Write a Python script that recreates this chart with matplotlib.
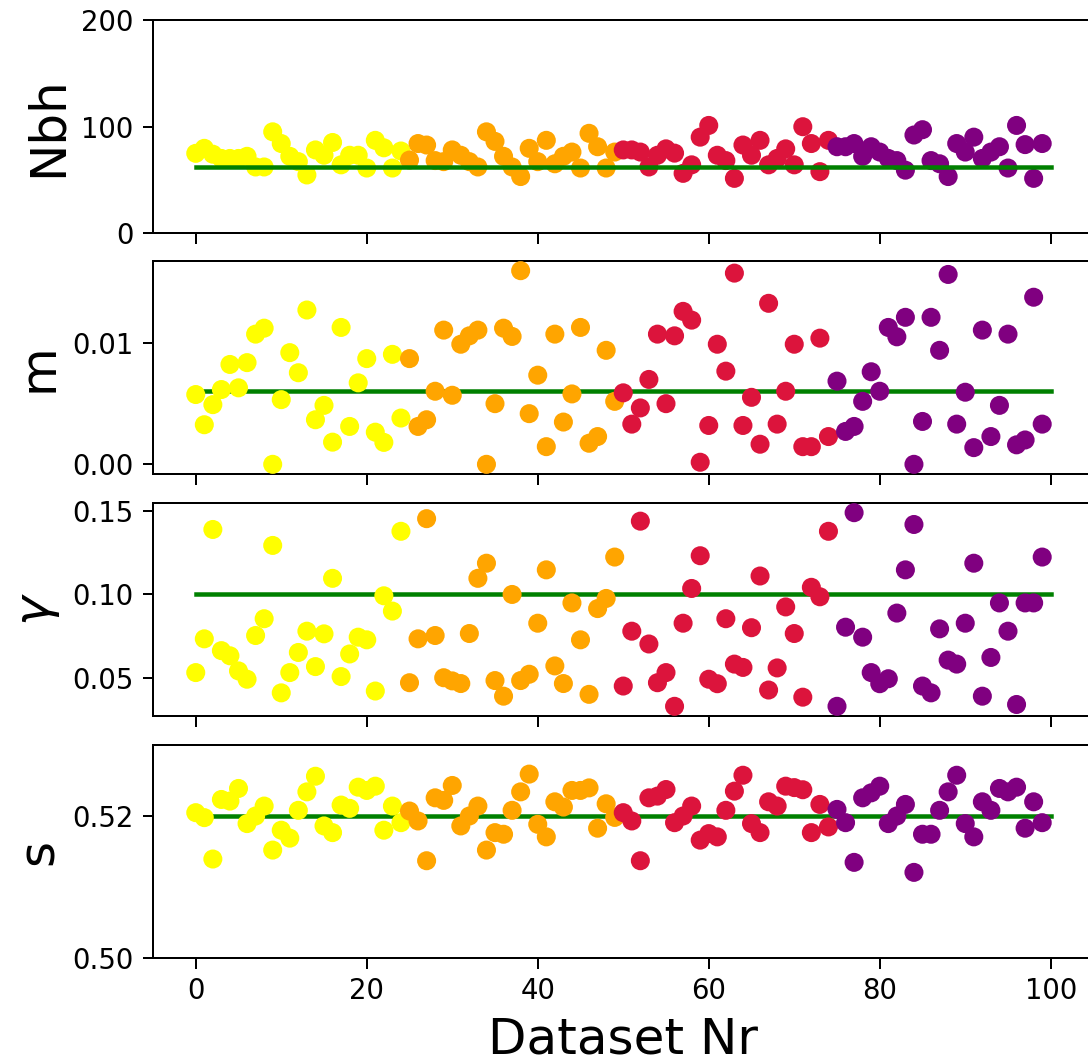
import numpy as np
import matplotlib
matplotlib.use("Agg")
import matplotlib.pyplot as plt

# Dataset index and the four groups of 25 runs
dataset_nr = list(range(100))
group_colors = ["yellow", "orange", "crimson", "purple"]
group_size = 25

# True parameter values (reference lines)
nbh_true = 62
m_true = 0.006
gamma_true = 0.10
s_true = 0.52

# Estimated Nbh per dataset
nbh = [74.8, 79.5, 74, 70, 70, 70, 72, 62, 62, 95, 84, 72, 67, 54.5, 78, 73, 85, 64, 73, 73, 61, 87, 80, 61, 77,
       68.5, 84, 82.6, 68, 67, 78, 73, 67, 62, 95, 86, 72, 62, 53, 79.5, 67, 87, 65, 72, 76, 61, 93.6, 81, 61, 76,
       78, 78, 76, 62, 73, 79, 75, 56, 64, 90, 101, 73, 68, 51.3, 82.6, 73, 87, 64, 70, 79, 64, 99.8, 84, 57.6, 87,
       81, 81, 84, 72, 81, 76, 70, 68, 59, 92, 97, 68, 65, 53, 84, 76, 90, 70, 76, 81, 61, 101, 83, 51.3, 84]

# Estimated m per dataset
m = [0.00573, 0.00325, 0.00490, 0.00614, 0.00820, 0.00628, 0.00835, 0.01069, 0.01118, 0.00000,
     0.00531, 0.00917, 0.00752, 0.01267, 0.00366, 0.00484, 0.00182, 0.01124, 0.00311, 0.00669,
     0.00868, 0.00264, 0.00180, 0.00903, 0.00380,
     0.00868, 0.00311, 0.00366, 0.00600, 0.01102, 0.00567, 0.00986, 0.01055, 0.01102, 0.00000,
     0.00498, 0.01118, 0.01050, 0.01590, 0.00416, 0.00732, 0.00145, 0.01069, 0.00347, 0.00578,
     0.01124, 0.00173, 0.00228, 0.00936, 0.00517,
     0.00587, 0.00330, 0.00463, 0.00697, 0.01069, 0.00498, 0.01055, 0.01256, 0.01184, 0.00017,
     0.00319, 0.00986, 0.00765, 0.01570, 0.00319, 0.00550, 0.00165, 0.01322, 0.00330, 0.00600,
     0.00986, 0.00145, 0.00145, 0.01036, 0.00228,
     0.00683, 0.00270, 0.00311, 0.00517, 0.00760, 0.00600, 0.01124, 0.01047, 0.01207, 0.00000,
     0.00352, 0.01207, 0.00936, 0.01559, 0.00330, 0.00592, 0.00137, 0.01102, 0.00228, 0.00484,
     0.01069, 0.00160, 0.00200, 0.01372, 0.00330]

# Estimated gamma per dataset
gamma = [0.0530, 0.0733, 0.1391, 0.0662, 0.0631, 0.0540, 0.0490, 0.0753, 0.0854, 0.1295,
         0.0408, 0.0530, 0.0651, 0.0779, 0.0566, 0.0763, 0.1097, 0.0506, 0.0642, 0.0743,
         0.0727, 0.0419, 0.0992, 0.0900, 0.1380,
         0.0469, 0.0733, 0.1456, 0.0753, 0.0499, 0.0480, 0.0464, 0.0765, 0.1097, 0.1188,
         0.0482, 0.0388, 0.1000, 0.0482, 0.0520, 0.0827, 0.1148, 0.0570, 0.0464, 0.0949,
         0.0727, 0.0399, 0.0915, 0.0976, 0.1225,
         0.0449, 0.0779, 0.1441, 0.0702, 0.0469, 0.0530, 0.0327, 0.0827, 0.1036, 0.1233,
         0.0490, 0.0463, 0.0854, 0.0581, 0.0561, 0.0800, 0.1111, 0.0425, 0.0558, 0.0925,
         0.0765, 0.0382, 0.1043, 0.0986, 0.1380,
         0.0327, 0.0803, 0.1492, 0.0743, 0.0530, 0.0463, 0.0493, 0.0888, 0.1148, 0.1421,
         0.0449, 0.0408, 0.0793, 0.0605, 0.0581, 0.0827, 0.1188, 0.0388, 0.0621, 0.0949,
         0.0779, 0.0338, 0.0949, 0.0949, 0.1225]

# Estimated s per dataset
s = [0.52047, 0.51977, 0.51394, 0.52233, 0.52210, 0.52388, 0.51893, 0.52000, 0.52140, 0.51520,
     0.51800, 0.51688, 0.52080, 0.52340, 0.52560, 0.51860, 0.51766, 0.52154, 0.52108, 0.52406,
     0.52360, 0.52420, 0.51800, 0.52140, 0.51906,
     0.52070, 0.51930, 0.51370, 0.52256, 0.52220, 0.52430, 0.51860, 0.52000, 0.52140, 0.51520,
     0.51766, 0.51743, 0.52080, 0.52340, 0.52590, 0.51883, 0.51706, 0.52200, 0.52126, 0.52360,
     0.52360, 0.52396, 0.51828, 0.52172, 0.51980,
     0.52047, 0.51930, 0.51370, 0.52256, 0.52280, 0.52373, 0.51906, 0.52000, 0.52140, 0.51660,
     0.51752, 0.51706, 0.52080, 0.52350, 0.52574, 0.51893, 0.51766, 0.52200, 0.52140, 0.52420,
     0.52400, 0.52370, 0.51766, 0.52163, 0.51846,
     0.52093, 0.51906, 0.51347, 0.52256, 0.52326, 0.52420, 0.51893, 0.52000, 0.52163, 0.51206,
     0.51743, 0.51743, 0.52080, 0.52340, 0.52574, 0.51893, 0.51706, 0.52200, 0.52080, 0.52388,
     0.52340, 0.52406, 0.51828, 0.52200, 0.51906]

colors = [c for c in group_colors for _ in range(group_size)]

DPI = 180
fig = plt.figure(figsize=(1088 / DPI, 1059 / DPI), dpi=DPI)

left = 153 / 1088
width = 940.5 / 1088
height = 213 / 1059
bottoms = [1 - 233 / 1059, 1 - 474 / 1059, 1 - 716 / 1059, 1 - 958 / 1059]

panels = [
    (nbh, nbh_true, "Nbh", [0, 100, 200], ["0", "100", "200"], (0, 200), True),
    (m, m_true, "m", [0.0, 0.01], ["0.00", "0.01"], None, False),
    (gamma, gamma_true, r"$\gamma$", [0.05, 0.10, 0.15], ["0.05", "0.10", "0.15"], None, False),
    (s, s_true, "s", [0.50, 0.52], ["0.50", "0.52"], (0.50, 0.53), False),
]

axes = []
for k, (vals, true_val, label, yticks, yticklabels, ylim, line_on_top) in enumerate(panels):
    ax = fig.add_axes([left, bottoms[k], width, height],
                      sharex=axes[0] if axes else None)
    ax.scatter(dataset_nr, vals, c=colors, s=58, linewidths=0,
               zorder=1 if line_on_top else 3)
    ax.plot([0, 100], [true_val, true_val], color="green", lw=1.8, zorder=2)
    ax.set_yticks(yticks)
    ax.set_yticklabels(yticklabels)
    if ylim is not None:
        ax.set_ylim(*ylim)
    ax.set_ylabel(label, fontsize=20)
    ax.tick_params(labelsize=11, length=4.2)
    if k < 3:
        ax.tick_params(labelbottom=False)
    axes.append(ax)

axes[0].set_xlim(-5, 105)
axes[0].set_xticks([0, 20, 40, 60, 80, 100])
axes[-1].set_xlabel("Dataset Nr", fontsize=20)

fig.savefig("out.png", dpi=DPI)
